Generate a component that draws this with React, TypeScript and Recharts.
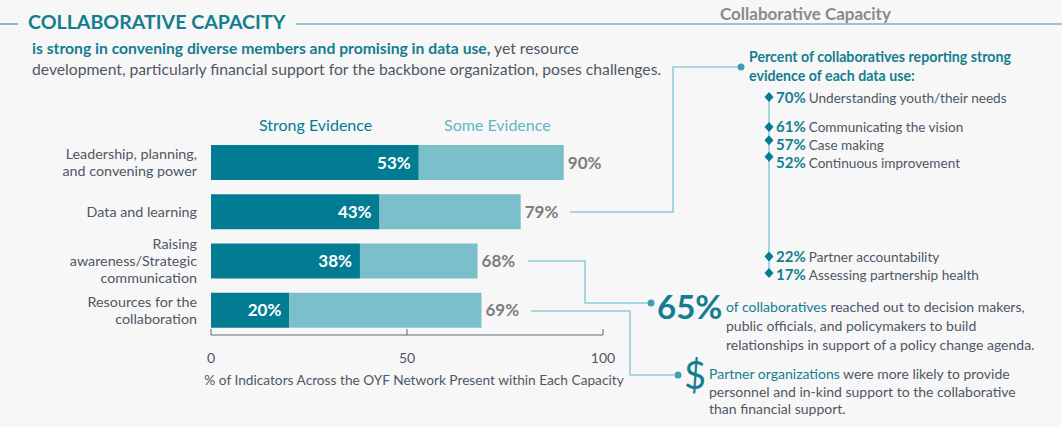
import React from 'react';
import { BarChart, Bar, XAxis, YAxis, LabelList, Legend, ScatterChart, Scatter, ZAxis } from 'recharts';

// capacity categories (\n = line break in the axis label)
const categories = [
  'Leadership, planning,\nand convening power',
  'Data and learning',
  'Raising\nawareness/Strategic\ncommunication',
  'Resources for the\ncollaboration',
];
const strongEvidence = [53, 43, 38, 20];
const someEvidence = [37, 36, 30, 49];
const totalEvidence = [90, 79, 68, 69];
const xTicks = [0, 50, 100];

// data use list on the right
const dataUseLabels = [
  'Understanding youth/their needs',
  'Communicating the vision',
  'Case making',
  'Continuous improvement',
  'Partner accountability',
  'Assessing partnership health',
];
const dataUseValues = [70, 61, 57, 52, 22, 17];

const TEAL_DARK = '#027c93';
const TEAL_LIGHT = '#7bbfcb';
const TEAL_TEXT = '#147e90';
const GRAY_TEXT = '#4e5765';
const LINE = '#8ecbd6';
const FONT = 'Lato, "Open Sans", sans-serif';

const barData = categories.map((c, i) => ({
  category: c,
  strong: strongEvidence[i],
  some: someEvidence[i],
  total: totalEvidence[i],
}));

const dataUse = dataUseValues.map((v, i) => ({ x: 0, value: v, label: dataUseLabels[i], idx: i }));

const CategoryTick = (props: any) => {
  const { x, y, payload } = props;
  const lines = String(payload.value).split('\n');
  const lh = 17;
  const start = y - ((lines.length - 1) * lh) / 2;
  return (
    <text x={x} textAnchor="end" fill={GRAY_TEXT} fontSize={14.3} fontFamily={FONT}>
      {lines.map((l, i) => (
        <tspan key={i} x={x} y={start + i * lh} dy="0.35em">{l}</tspan>
      ))}
    </text>
  );
};

const ValueTick = (props: any) => {
  const { x, y, payload } = props;
  return (
    <g>
      <line x1={x} x2={x} y1={y - 6} y2={y} stroke="#5d6878" />
      <text x={x} y={y + 28} textAnchor="middle" fill={GRAY_TEXT} fontSize={14} fontFamily={FONT}>
        {payload.value}
      </text>
    </g>
  );
};

const LEGEND_COLORS: Record<string, string> = { 'Strong Evidence': TEAL_DARK, 'Some Evidence': '#5fb6c5' };
const LEGEND_LEFT: Record<string, number> = { 'Strong Evidence': 259, 'Some Evidence': 444 };

const renderLegend = (props: any) => {
  const { payload } = props;
  return (
    <div style={{ position: 'relative', height: 24 }}>
      {payload.map((p: any) => (
        <span
          key={p.value}
          style={{
            position: 'absolute',
            left: LEGEND_LEFT[p.value],
            top: 0,
            fontSize: 16,
            color: LEGEND_COLORS[p.value],
            whiteSpace: 'nowrap',
          }}
        >
          {p.value}
        </span>
      ))}
    </div>
  );
};

// labels are pushed down a little when they would collide with the one above
let lastLabelY = 0;
const DataUseMark = (props: any) => {
  const { cx, cy, payload } = props;
  const ly = payload.idx === 0 ? cy : Math.max(cy, lastLabelY + 18);
  lastLabelY = ly;
  return (
    <g>
      <path d={`M${cx} ${cy - 5} L${cx + 4.5} ${cy} L${cx} ${cy + 5} L${cx - 4.5} ${cy} Z`} fill={TEAL_DARK} />
      <text x={cx + 7} y={ly} dy="0.35em" fontFamily={FONT}>
        <tspan fill={TEAL_TEXT} fontWeight={700} fontSize={15}>{payload.value}%</tspan>
        <tspan fill={GRAY_TEXT} fontSize={13.6} dx={3}>{payload.label}</tspan>
      </text>
    </g>
  );
};

const abs = (left: number, top: number, extra: React.CSSProperties = {}): React.CSSProperties => ({
  position: 'absolute',
  left,
  top,
  whiteSpace: 'nowrap',
  ...extra,
});

export default function App() {
  return (
    <div style={{ position: 'relative', width: 1062, height: 427, background: '#f7f7f7', fontFamily: FONT, overflow: 'hidden' }}>
      <style>{'body{margin:0}'}</style>

      {/* header */}
      <svg width={1062} height={427} style={{ position: 'absolute', left: 0, top: 0 }}>
        <line x1={0} x2={18} y1={24} y2={24} stroke="#3d8fa5" strokeWidth={1.2} />
        <line x1={296} x2={1062} y1={24} y2={24} stroke="#3d8fa5" strokeWidth={1.2} />
      </svg>
      <div style={abs(28, 10, { fontSize: 19.6, fontWeight: 700, color: TEAL_TEXT, lineHeight: '24px' })}>
        COLLABORATIVE CAPACITY
      </div>
      <div style={abs(720, 3, { fontSize: 17, fontWeight: 700, color: '#8a8a8a', lineHeight: '22px' })}>
        Collaborative Capacity
      </div>
      <div style={abs(32, 38, { fontSize: 15.7, color: GRAY_TEXT, lineHeight: '21px' })}>
        <span style={{ color: TEAL_TEXT, fontWeight: 700 }}>is strong in convening diverse members and promising in data use,</span>{' '}
        yet resource
        <br />
        development, particularly financial support for the backbone organization, poses challenges.
      </div>

      {/* main bar chart */}
      <div style={{ position: 'absolute', left: 0, top: 0 }}>
        <BarChart
          width={1062}
          height={427}
          data={barData}
          layout="vertical"
          margin={{ top: 138, right: 459, bottom: 35, left: 0 }}
          barSize={35}
        >
          <XAxis
            type="number"
            domain={[0, 100]}
            ticks={xTicks}
            tick={ValueTick}
            tickSize={0}
            tickMargin={0}
            tickLine={false}
            axisLine={{ stroke: '#5d6878' }}
            height={57}
            label={{
              value: '% of Indicators Across the OYF Network Present within Each Capacity',
              position: 'insideBottom',
              offset: 7,
              dx: 7,
              fill: GRAY_TEXT,
              fontSize: 13.7,
              fontFamily: FONT,
            }}
          />
          <YAxis
            type="category"
            dataKey="category"
            width={211}
            tick={CategoryTick}
            interval={0}
            tickSize={0}
            tickMargin={14}
            tickLine={false}
            axisLine={false}
          />
          <Legend
            layout="horizontal"
            verticalAlign="middle"
            align="center"
            wrapperStyle={{ top: 115, left: 0, width: 1062, height: 24 }}
            content={renderLegend}
          />
          <Bar dataKey="strong" name="Strong Evidence" stackId="a" fill={TEAL_DARK} isAnimationActive={false}>
            <LabelList
              dataKey="strong"
              position="insideRight"
              offset={8}
              formatter={(v: any) => `${v}%`}
              fill="#ffffff"
              fontSize={17}
              fontWeight={700}
              fontFamily={FONT}
            />
          </Bar>
          <Bar dataKey="some" name="Some Evidence" stackId="a" fill={TEAL_LIGHT} isAnimationActive={false}>
            <LabelList
              dataKey="total"
              position="right"
              offset={4}
              formatter={(v: any) => `${v}%`}
              fill="#7d7d7d"
              fontSize={17}
              fontWeight={700}
              fontFamily={FONT}
            />
          </Bar>
        </BarChart>
      </div>

      {/* connectors */}
      <svg width={1062} height={427} style={{ position: 'absolute', left: 0, top: 0, pointerEvents: 'none' }}>
        <path d="M570 212 H673 V67 H738" fill="none" stroke={LINE} strokeWidth={1.5} />
        <circle cx={741} cy={67} r={3.5} fill="#3f9fb3" />
        <path d="M528 261 H585 V303 H648" fill="none" stroke={LINE} strokeWidth={1.5} />
        <circle cx={651} cy={303} r={3.5} fill="#3f9fb3" />
        <path d="M531 311 H630 V375 H674" fill="none" stroke={LINE} strokeWidth={1.5} />
        <circle cx={678} cy={375} r={3.5} fill="#3f9fb3" />
      </svg>

      {/* data use list */}
      <div style={abs(749, 47, { fontSize: 14.2, fontWeight: 700, color: TEAL_TEXT, lineHeight: '19px' })}>
        Percent of collaboratives reporting strong
        <br />
        evidence of each data use:
      </div>
      <div style={{ position: 'absolute', left: 700, top: 0 }}>
        <ScatterChart width={362} height={427} margin={{ top: 97, right: 0, bottom: 154, left: 69 }}>
          <XAxis type="number" dataKey="x" domain={[0, 1]} hide />
          <YAxis type="number" dataKey="value" domain={[17, 70]} hide />
          <ZAxis range={[50, 50]} />
          <Scatter
            data={dataUse}
            line={{ stroke: LINE, strokeWidth: 1.5 }}
            shape={DataUseMark}
            isAnimationActive={false}
          />
        </ScatterChart>
      </div>

      {/* 65% callout */}
      <div style={abs(657, 287, { fontSize: 33, fontWeight: 700, color: TEAL_TEXT, lineHeight: '38px' })}>65%</div>
      <div style={abs(726, 297, { fontSize: 14, color: GRAY_TEXT, lineHeight: '19px' })}>
        <span style={{ color: TEAL_TEXT }}>of collaboratives</span> reached out to decision makers,
        <br />
        public officials, and policymakers to build
        <br />
        relationships in support of a policy change agenda.
      </div>

      {/* $ callout */}
      <div style={abs(684, 353, { fontSize: 38, color: TEAL_TEXT, lineHeight: '42px' })}>$</div>
      <div style={abs(709, 365, { fontSize: 14, color: GRAY_TEXT, lineHeight: '17.5px' })}>
        <span style={{ color: TEAL_TEXT }}>Partner organizations</span> were more likely to provide
        <br />
        personnel and in-kind support to the collaborative
        <br />
        than financial support.
      </div>
    </div>
  );
}
